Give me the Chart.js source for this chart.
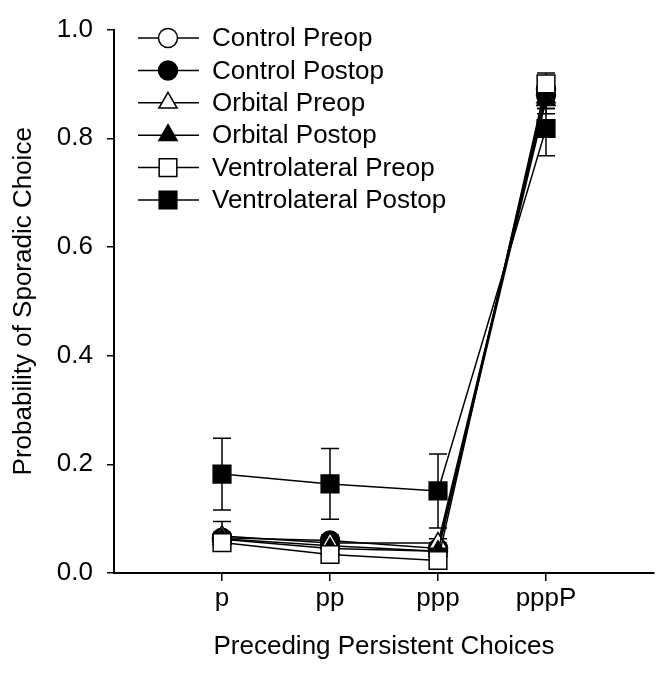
<!DOCTYPE html>
<html>
<head>
<meta charset="utf-8">
<script src="https://cdn.jsdelivr.net/npm/chart.js@4"></script>
<style>
  html, body { margin: 0; padding: 0; background: #fff; }
</style>
</head>
<body>
<canvas id="chart" width="668" height="673"></canvas>
<script>
// categories on the x axis and where they sit on the linear scale (0..5)
const categories = ['p', 'pp', 'ppp', 'pppP'];
const catX = [1, 2, 3, 4];
const yTicks = [0, 0.2, 0.4, 0.6, 0.8, 1.0];

const seriesNames = ['Control Preop', 'Control Postop', 'Orbital Preop', 'Orbital Postop', 'Ventrolateral Preop', 'Ventrolateral Postop'];

// means
const controlPreop = [0.063, 0.050, 0.040, 0.890];
const controlPostop = [0.065, 0.060, 0.045, 0.880];
const orbitalPreop = [0.068, 0.055, 0.055, 0.875];
const orbitalPostop = [0.062, 0.045, 0.040, 0.870];
const vlPreop = [0.056, 0.034, 0.023, 0.900];
const vlPostop = [0.182, 0.164, 0.151, 0.818];

// error (+/-)
const errControlPreop = [0.010, 0.010, 0.010, 0.015];
const errControlPostop = [0.010, 0.010, 0.010, 0.035];
const errOrbitalPreop = [0.027, 0.010, 0.008, 0.020];
const errOrbitalPostop = [0.010, 0.010, 0.010, 0.015];
const errVlPreop = [0.010, 0.010, 0.010, 0.020];
const errVlPostop = [0.066, 0.065, 0.068, 0.050];

const FONT = "'Liberation Sans', Arial, sans-serif";
const FS = 26;

const means = [controlPreop, controlPostop, orbitalPreop, orbitalPostop, vlPreop, vlPostop];
const errs = [errControlPreop, errControlPostop, errOrbitalPreop, errOrbitalPostop, errVlPreop, errVlPostop];
const styles = ['circle', 'circle', 'triangle', 'triangle', 'rect', 'rect'];
const fills = ['#fff', '#000', '#fff', '#000', '#fff', '#000'];
const radii = [9.5, 9.5, 10.5, 10.5, 12.5, 12.5];

const datasets = means.map((m, i) => ({
    label: seriesNames[i],
    data: m.map((v, j) => ({ x: catX[j], y: v })),
    errors: errs[i],
    order: means.length - i, // later series on top
    borderColor: '#000',
    borderWidth: 1.5,
    pointStyle: styles[i],
    pointRadius: radii[i],
    pointBackgroundColor: fills[i],
    pointBorderColor: '#000',
    pointBorderWidth: 1.5,
    fill: false,
    tension: 0,
}));

// vertical error bars with caps, drawn under the markers
const errorBars = {
    id: 'errorBars',
    beforeDatasetsDraw(chart) {
        const { ctx, scales: { x, y } } = chart;
        ctx.save();
        ctx.strokeStyle = '#000';
        ctx.lineWidth = 1.5;
        chart.data.datasets.forEach(ds => {
            ds.data.forEach((p, j) => {
                const e = ds.errors[j];
                const px = x.getPixelForValue(p.x);
                const top = y.getPixelForValue(p.y + e);
                const bot = y.getPixelForValue(p.y - e);
                ctx.beginPath();
                ctx.moveTo(px, top); ctx.lineTo(px, bot);
                ctx.moveTo(px - 9, top); ctx.lineTo(px + 9, top);
                ctx.moveTo(px - 9, bot); ctx.lineTo(px + 9, bot);
                ctx.stroke();
            });
        });
        ctx.restore();
    }
};

// legend: short line with the marker in the middle, text to the right
const lineLegend = {
    id: 'lineLegend',
    afterDraw(chart) {
        const { ctx } = chart;
        ctx.save();
        chart.data.datasets.forEach((ds, i) => {
            const yy = 38 + i * 32.4;
            ctx.strokeStyle = '#000';
            ctx.lineWidth = 1.5;
            ctx.beginPath();
            ctx.moveTo(138, yy); ctx.lineTo(199, yy);
            ctx.stroke();
            ctx.fillStyle = ds.pointBackgroundColor;
            Chart.helpers.drawPoint(ctx, { pointStyle: ds.pointStyle, radius: ds.pointRadius, rotation: 0, borderWidth: 1.5 }, 168, yy);
            ctx.fillStyle = '#000';
            ctx.font = FS + 'px ' + FONT;
            ctx.textBaseline = 'middle';
            ctx.textAlign = 'left';
            ctx.fillText(ds.label, 212, yy + 1);
        });
        ctx.restore();
    }
};

new Chart(document.getElementById('chart'), {
    type: 'line',
    data: { datasets },
    plugins: [errorBars, lineLegend],
    options: {
        responsive: false,
        animation: false,
        devicePixelRatio: 1,
        layout: { padding: { top: 17, right: 0, left: 0, bottom: 0 } },
        plugins: { legend: { display: false }, tooltip: { enabled: false } },
        scales: {
            x: {
                type: 'linear', min: 0, max: 5,
                afterBuildTicks: s => { s.ticks = catX.map(v => ({ value: v })); },
                afterFit: s => { s.height = 100; },
                ticks: {
                    callback: v => categories[catX.indexOf(v)] ?? '',
                    color: '#000', font: { family: FONT, size: FS }, padding: 2,
                    maxRotation: 0, autoSkip: false,
                },
                grid: { display: true, drawOnChartArea: false, drawTicks: true, tickLength: 8, color: '#000', lineWidth: 1.5 },
                border: { display: true, color: '#000', width: 2 },
                title: { display: true, text: 'Preceding Persistent Choices', color: '#000', font: { family: FONT, size: FS }, padding: { bottom: 11 } },
            },
            y: {
                min: 0, max: 1,
                afterBuildTicks: s => { s.ticks = yTicks.map(v => ({ value: v })); },
                afterFit: s => { s.width = 114; },
                ticks: {
                    callback: v => v.toFixed(1),
                    color: '#000', font: { family: FONT, size: FS }, padding: 14,
                },
                grid: { display: true, drawOnChartArea: false, drawTicks: true, tickLength: 7, color: '#000', lineWidth: 1.5 },
                border: { display: true, color: '#000', width: 2 },
                title: { display: true, text: 'Probability of Sporadic Choice', color: '#000', font: { family: FONT, size: FS }, padding: { top: 8 } },
            },
        },
    },
});
</script>
</body>
</html>
